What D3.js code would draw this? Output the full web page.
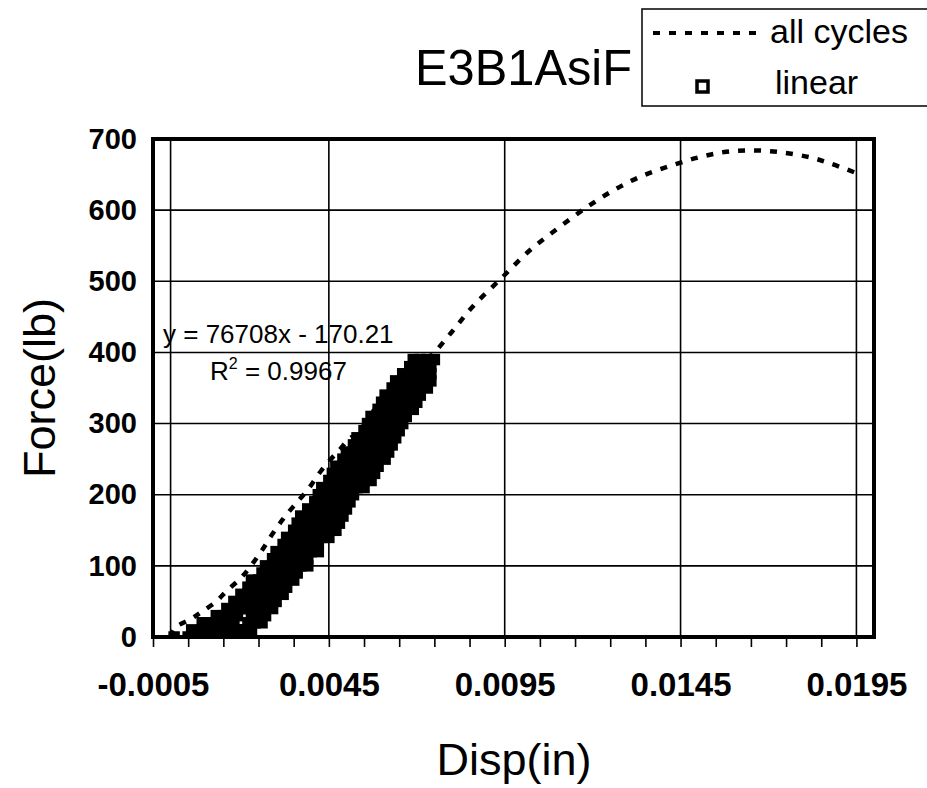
<!DOCTYPE html>
<html>
<head>
<meta charset="utf-8">
<script src="https://cdn.jsdelivr.net/npm/d3@7"></script>
<style>
  body { margin: 0; background: #fff; }
  svg { display: block; font-family: "Liberation Sans", Arial, sans-serif; }
</style>
</head>
<body>
<script>
// ---- values ----
var chartTitle = "E3B1AsiF";
var xTitle = "Disp(in)";
var yTitle = "Force(lb)";
var seriesNames = ["all cycles", "linear"];

var xTickLabels = [-0.0005, 0.0045, 0.0095, 0.0145, 0.0195];
var xMinorTicks = [-0.0005, 0.0005, 0.0015, 0.0025, 0.0035, 0.0045, 0.0055, 0.0065, 0.0075, 0.0085,
                   0.0095, 0.0105, 0.0115, 0.0125, 0.0135, 0.0145, 0.0155, 0.0165, 0.0175, 0.0185, 0.0195];
var xGridLines = [0, 0.0045, 0.0095, 0.0145, 0.0195];
var yTicks = [0, 100, 200, 300, 400, 500, 600, 700];

// "all cycles" (dotted line): loading/unloading loops, then the final push
var allX = [0.0000, 0.0001, 0.0006, 0.0009, 0.0013, 0.0016, 0.0020, 0.0023, 0.0026, 0.0029, 0.0032, 0.0035, 0.0039, 0.0043, 0.0048, 0.0052,
            0.0055, 0.0053, 0.0047, 0.0041, 0.0035, 0.0029, 0.0022, 0.0016, 0.0012,
            0.0014, 0.0017, 0.0020, 0.0023, 0.0027, 0.0030, 0.0033, 0.0036, 0.0038, 0.0041, 0.0045, 0.0050, 0.0056, 0.0062,
            0.0064, 0.0058, 0.0052, 0.0044, 0.0037, 0.0030, 0.0023, 0.0018,
            0.0028, 0.0034, 0.0040, 0.0046, 0.0053, 0.0060, 0.0066, 0.0071, 0.0074,
            0.0080, 0.0086, 0.0094, 0.0102, 0.0110, 0.0118, 0.0126, 0.0134, 0.0142, 0.0150, 0.0158, 0.0166, 0.0174, 0.0182, 0.0188, 0.0195];
var allY = [0, 12, 26, 36, 50, 65, 83, 101, 122, 145, 166, 184, 207, 235, 263, 282,
            275, 240, 190, 140, 95, 55, 22, 5, 1,
            20, 40, 59, 78, 98, 120, 141, 153, 164, 188, 220, 262, 305, 345,
            330, 270, 210, 150, 100, 55, 20, 3,
            40, 90, 140, 190, 250, 310, 355, 385, 395,
            429, 465, 504, 543, 574, 603, 628, 648, 662, 674, 682, 684, 681, 674, 665, 652];

// "linear" (square markers): dense band, one row of x readings per force level
var linearRowY = [0, 10, 20, 30, 40, 50, 60, 70, 80, 90, 100, 110, 120, 130, 140, 150, 160, 170, 180, 190,
                  200, 210, 220, 230, 240, 250, 260, 270, 280, 290, 300, 310, 320, 330, 340, 350, 360, 370, 380, 390];
var linearRowX = [
  [0.0001, 0.0005, 0.0008, 0.0010, 0.0012, 0.0014, 0.0016, 0.0018, 0.0020],
  [0.0006, 0.0009, 0.0011, 0.0013, 0.0015, 0.0017, 0.0019, 0.0021, 0.0023],
  [0.0009, 0.0012, 0.0014, 0.0016, 0.0018, 0.0022, 0.0024, 0.0026],
  [0.0013, 0.0015, 0.0017, 0.0019, 0.0023, 0.0025, 0.0027],
  [0.0016, 0.0018, 0.0020, 0.0022, 0.0024, 0.0026, 0.0029],
  [0.0018, 0.0021, 0.0023, 0.0025, 0.0027, 0.0030],
  [0.0020, 0.0022, 0.0024, 0.0026, 0.0028, 0.0030, 0.0032],
  [0.0022, 0.0024, 0.0027, 0.0029, 0.0031, 0.0033],
  [0.0023, 0.0025, 0.0027, 0.0029, 0.0031, 0.0033, 0.0035],
  [0.0026, 0.0028, 0.0030, 0.0032, 0.0034, 0.0036],
  [0.0027, 0.0029, 0.0031, 0.0033, 0.0035, 0.0037, 0.0039],
  [0.0029, 0.0031, 0.0033, 0.0035, 0.0037, 0.0039],
  [0.0030, 0.0032, 0.0034, 0.0036, 0.0038, 0.0040, 0.0042],
  [0.0032, 0.0034, 0.0036, 0.0038, 0.0040, 0.0042],
  [0.0033, 0.0035, 0.0037, 0.0039, 0.0041, 0.0043, 0.0045],
  [0.0035, 0.0037, 0.0039, 0.0041, 0.0043, 0.0045, 0.0047],
  [0.0036, 0.0038, 0.0040, 0.0042, 0.0044, 0.0046, 0.0048],
  [0.0037, 0.0039, 0.0041, 0.0043, 0.0045, 0.0047, 0.0049],
  [0.0039, 0.0041, 0.0043, 0.0045, 0.0047, 0.0049, 0.0050],
  [0.0041, 0.0043, 0.0045, 0.0047, 0.0049, 0.0051],
  [0.0042, 0.0044, 0.0046, 0.0048, 0.0050, 0.0052],
  [0.0043, 0.0045, 0.0047, 0.0049, 0.0051, 0.0053, 0.0055],
  [0.0045, 0.0047, 0.0049, 0.0051, 0.0053, 0.0055, 0.0057],
  [0.0046, 0.0048, 0.0050, 0.0052, 0.0054, 0.0056, 0.0058],
  [0.0047, 0.0049, 0.0051, 0.0053, 0.0055, 0.0057, 0.0059],
  [0.0049, 0.0051, 0.0053, 0.0055, 0.0057, 0.0059, 0.0061],
  [0.0050, 0.0052, 0.0054, 0.0056, 0.0058, 0.0060, 0.0062],
  [0.0052, 0.0054, 0.0056, 0.0058, 0.0060, 0.0062, 0.0063],
  [0.0053, 0.0055, 0.0057, 0.0059, 0.0061, 0.0063, 0.0064],
  [0.0055, 0.0057, 0.0059, 0.0061, 0.0063, 0.0065],
  [0.0056, 0.0058, 0.0060, 0.0062, 0.0064, 0.0066],
  [0.0057, 0.0059, 0.0061, 0.0063, 0.0065, 0.0067],
  [0.0059, 0.0061, 0.0063, 0.0065, 0.0067, 0.0069],
  [0.0060, 0.0062, 0.0064, 0.0066, 0.0068, 0.0070],
  [0.0061, 0.0063, 0.0065, 0.0067, 0.0069, 0.0071],
  [0.0063, 0.0065, 0.0067, 0.0069, 0.0071, 0.0073],
  [0.0064, 0.0066, 0.0068, 0.0070, 0.0072, 0.0074],
  [0.0066, 0.0068, 0.0070, 0.0072, 0.0074],
  [0.0068, 0.0070, 0.0072, 0.0074],
  [0.0069, 0.0071, 0.0073, 0.0075]
];

var trendEquation = "y = 76708x - 170.21";
var trendR2 = "0.9967";

// ---- layout ----
var width = 927, height = 788;
var plot = {left: 153, right: 874, top: 139, bottom: 637};

var svg = d3.select("body").append("svg")
    .attr("width", width)
    .attr("height", height);

var x = d3.scaleLinear().domain([-0.0005, 0.0200]).range([plot.left, plot.right]);
var y = d3.scaleLinear().domain([0, 700]).range([plot.bottom, plot.top]);

svg.append("clipPath").attr("id", "plotclip")
  .append("rect")
    .attr("x", plot.left).attr("y", plot.top)
    .attr("width", plot.right - plot.left).attr("height", plot.bottom - plot.top);

// gridlines
svg.append("g").selectAll("line")
    .data(yTicks.filter(function(d) { return d > 0 && d < 700; }))
    .enter().append("line")
    .attr("x1", plot.left).attr("x2", plot.right)
    .attr("y1", function(d) { return y(d); })
    .attr("y2", function(d) { return y(d); })
    .attr("stroke", "#000").attr("stroke-width", 1.6);

svg.append("g").selectAll("line")
    .data(xGridLines)
    .enter().append("line")
    .attr("y1", plot.top).attr("y2", plot.bottom)
    .attr("x1", function(d) { return x(d); })
    .attr("x2", function(d) { return x(d); })
    .attr("stroke", "#000").attr("stroke-width", 1.6);

var plotArea = svg.append("g").attr("clip-path", "url(#plotclip)");

// all cycles: dotted line
var line = d3.line()
    .x(function(d) { return x(d[0]); })
    .y(function(d) { return y(d[1]); })
    .curve(d3.curveCatmullRom.alpha(0.5));

var allPts = allX.map(function(v, i) { return [v, allY[i]]; });

plotArea.append("path")
    .datum(allPts)
    .attr("d", line)
    .attr("fill", "none")
    .attr("stroke", "#000")
    .attr("stroke-width", 4.5)
    .attr("stroke-dasharray", "7,9");

// linear: square markers, so dense they merge into a solid band
var linPts = [];
linearRowY.forEach(function(yv, i) {
    linearRowX[i].forEach(function(xv) { linPts.push([xv, yv]); });
});

var sq = 8;
plotArea.append("g").selectAll("rect")
    .data(linPts)
    .enter().append("rect")
    .attr("x", function(d) { return x(d[0]) - sq / 2; })
    .attr("y", function(d) { return y(d[1]) - sq / 2; })
    .attr("width", sq).attr("height", sq)
    .attr("fill", "#000")
    .attr("stroke", "#000")
    .attr("stroke-width", 3.5);

// plot frame
svg.append("rect")
    .attr("x", plot.left).attr("y", plot.top)
    .attr("width", plot.right - plot.left).attr("height", plot.bottom - plot.top)
    .attr("fill", "none").attr("stroke", "#000").attr("stroke-width", 4);

// x axis: minor ticks, then labels
var xMinor = svg.append("g")
    .attr("transform", "translate(0," + plot.bottom + ")")
    .call(d3.axisBottom(x).tickValues(xMinorTicks).tickSize(10).tickFormat(""));
xMinor.select(".domain").remove();
xMinor.selectAll(".tick line").attr("stroke-width", 1.6);

var xLab = svg.append("g")
    .attr("transform", "translate(0," + plot.bottom + ")")
    .call(d3.axisBottom(x).tickValues(xTickLabels).tickSize(0).tickPadding(36)
        .tickFormat(function(d) { return d.toFixed(4); }));
xLab.select(".domain").remove();
xLab.selectAll("text")
    .attr("font-family", "'Liberation Sans', Arial, sans-serif")
    .attr("font-size", 33).attr("font-weight", "bold").attr("fill", "#000");

// y axis labels
var yAx = svg.append("g")
    .attr("transform", "translate(" + plot.left + ",0)")
    .call(d3.axisLeft(y).tickValues(yTicks).tickSize(0).tickPadding(16).tickFormat(d3.format("d")));
yAx.select(".domain").remove();
yAx.selectAll("text")
    .attr("font-family", "'Liberation Sans', Arial, sans-serif")
    .attr("font-size", 29).attr("font-weight", "bold").attr("fill", "#000");

// axis titles
svg.append("text")
    .attr("x", 514).attr("y", 775)
    .attr("text-anchor", "middle")
    .attr("font-size", 45)
    .text(xTitle);

svg.append("text")
    .attr("transform", "translate(55,388) rotate(-90)")
    .attr("text-anchor", "middle")
    .attr("font-size", 45)
    .text(yTitle);

// chart title
svg.append("text")
    .attr("x", 415).attr("y", 85)
    .attr("font-size", 50)
    .attr("textLength", 217).attr("lengthAdjust", "spacingAndGlyphs")
    .text(chartTitle);

// trendline label
svg.append("text")
    .attr("x", 163).attr("y", 343)
    .attr("font-size", 26)
    .text(trendEquation);

var r2 = svg.append("text")
    .attr("x", 210).attr("y", 380)
    .attr("font-size", 26);
r2.append("tspan").text("R");
r2.append("tspan").attr("font-size", 16).attr("dy", -11).text("2");
r2.append("tspan").attr("dy", 11).text(" = " + trendR2);

// legend
var lg = svg.append("g");
lg.append("rect")
    .attr("x", 642).attr("y", 9)
    .attr("width", 320).attr("height", 97)
    .attr("fill", "#fff").attr("stroke", "#000").attr("stroke-width", 1.5);

lg.append("line")
    .attr("x1", 653).attr("x2", 764).attr("y1", 33).attr("y2", 33)
    .attr("stroke", "#000").attr("stroke-width", 4)
    .attr("stroke-dasharray", "7,9");
lg.append("text")
    .attr("x", 770).attr("y", 43)
    .attr("font-size", 34)
    .text(seriesNames[0]);

lg.append("rect")
    .attr("x", 697).attr("y", 81)
    .attr("width", 11).attr("height", 11)
    .attr("fill", "#fff").attr("stroke", "#000").attr("stroke-width", 3.5);
lg.append("text")
    .attr("x", 775).attr("y", 94)
    .attr("font-size", 34)
    .text(seriesNames[1]);
</script>
</body>
</html>
